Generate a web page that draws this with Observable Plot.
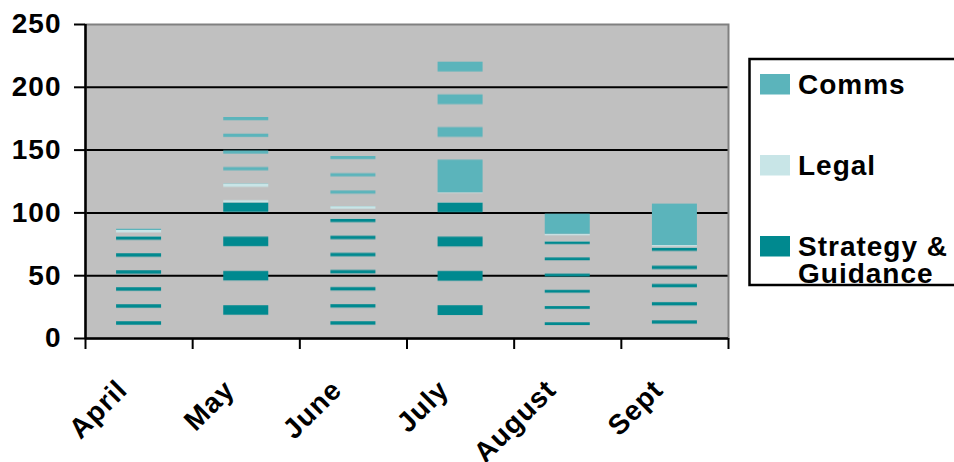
<!DOCTYPE html>
<html><head><meta charset="utf-8">
<script src="https://cdn.jsdelivr.net/npm/d3@7"></script>
<script src="https://cdn.jsdelivr.net/npm/@observablehq/plot@0.6"></script>
<style>
html,body{margin:0;padding:0;background:#fff;overflow:hidden;}
#wrap{position:relative;width:954px;height:462px;overflow:hidden;}
#wrap svg.lg{position:absolute;left:0;top:0;}
</style></head><body><div id="wrap"></div>
<script>
const months = ["April", "May", "June", "July", "August", "Sept"];
const seriesNames = ["Strategy & Guidance", "Legal", "Comms"];
const strategy = [81, 108, 95, 108, 77, 72];
const legal = [5, 15, 10, 8, 6, 2];
const comms = [1, 53, 40, 104, 16, 33];
const yTicks = [0, 50, 100, 150, 200, 250];
const legendOrder = ["Comms", "Legal", "Strategy & Guidance"];

// styles
const colors = {"Strategy & Guidance": "#00898f", "Legal": "#c8e5e7", "Comms": "#5bb4bb"};
// stripe pattern per bar segment: [period px, stripe px, solid bottom px]
const stripes = {
  April:  {"Strategy & Guidance": [17, 3.5, 0], "Legal": [17, 2.4, 0], "Comms": [17, 1.3, 0]},
  May:    {"Strategy & Guidance": [34.3, 9.5, 0], "Legal": [16.7, 3.3, 0], "Comms": [16.7, 3.3, 0]},
  June:   {"Strategy & Guidance": [17.1, 3.4, 0], "Legal": [17.1, 2.6, 0], "Comms": [17.3, 3.2, 0]},
  July:   {"Strategy & Guidance": [34.3, 9.8, 0], "Legal": [40, 0.9, 0], "Comms": [32.7, 9.8, 32.7]},
  August: {"Strategy & Guidance": [16.2, 2.8, 0], "Legal": [16, 1.4, 0], "Comms": [16, 16, 1e9]},
  Sept:   {"Strategy & Guidance": [18.2, 3.3, 0], "Legal": [16, 1.2, 0], "Comms": [16, 16, 1e9]}
};

const values = {"Strategy & Guidance": strategy, "Legal": legal, "Comms": comms};
const rows = [];
months.forEach((m, i) => {
  let base = 0;
  seriesNames.forEach((s, k) => {
    const v = values[s][i];
    rows.push({month: m, series: s, value: v, lo: base, hi: base + v, pat: `url(#pat-${i}-${k})`, id: `pat-${i}-${k}`});
    base += v;
  });
});

const W = 954, H = 462, mL = 85, mR = 226, mT = 24, mB = 124;
const plotH = H - mT - mB;
const step = (W - mL - mR) / months.length;

const plot = Plot.plot({
  width: W, height: H,
  marginLeft: mL, marginRight: mR, marginTop: mT, marginBottom: mB,
  style: {fontFamily: "'Liberation Sans', Arial, sans-serif", fontSize: "28px", fontWeight: "bold", letterSpacing: "1px", background: "transparent", color: "black"},
  x: {domain: months, paddingInner: 0.58, paddingOuter: 0.29, round: false, axis: null},
  y: {domain: [0, 250], axis: null},
  color: {type: "identity"},
  marks: [
    Plot.frame({fill: "#c0c0c0"}),
    Plot.ruleY(yTicks.slice(1, -1), {stroke: "black", strokeWidth: 2}),
    Plot.barY(rows, {x: "month", y: "value", fill: "pat"}),
    Plot.frame({stroke: "#808080", strokeWidth: 2}),
    Plot.ruleX([months[0]], {x: d => d, dx: -step / 2, stroke: "black", strokeWidth: 2.5}),
    Plot.ruleY([0], {stroke: "black", strokeWidth: 2.5}),
    Plot.ruleX(months, {x: d => d, dx: -step / 2, insetTop: plotH, insetBottom: -11, stroke: "black", strokeWidth: 2}),
    Plot.ruleX([months[months.length - 1]], {x: d => d, dx: step / 2, insetTop: plotH, insetBottom: -11, stroke: "black", strokeWidth: 2}),
    Plot.axisY({ticks: yTicks, tickSize: 11, tickPadding: 13, strokeWidth: 2, stroke: "black", fill: "black", label: null}),
    Plot.text(months, {x: d => d, frameAnchor: "bottom", rotate: -45, textAnchor: "end", lineAnchor: "bottom", dx: -10, dy: 53, fill: "black"})
  ]
});

// stripe patterns aligned to each segment through the y scale
const ys = plot.scale("y");
const defs = d3.select(plot).insert("defs", ":first-child");
rows.forEach(r => {
  const top = ys.apply(r.hi), bot = ys.apply(r.lo);
  const h = Math.max(bot - top, 0.01);
  const [P, T, solid] = stripes[r.month][r.series];
  const col = colors[r.series];
  const p = defs.append("pattern").attr("id", r.id).attr("patternUnits", "userSpaceOnUse")
    .attr("x", 0).attr("y", top).attr("width", W).attr("height", h);
  const sH = Math.min(solid, h);
  for (let s = 0; s < h - sH - 0.01; s += P) {
    p.append("rect").attr("x", 0).attr("y", s).attr("width", W).attr("height", Math.min(T, h - s)).attr("fill", col);
  }
  if (sH > 0) p.append("rect").attr("x", 0).attr("y", h - sH).attr("width", W).attr("height", sH).attr("fill", col);
});

const wrap = document.getElementById("wrap");
wrap.appendChild(plot);

// legend (right side)
const lg = d3.select(wrap).append("svg").attr("class", "lg").attr("width", W).attr("height", H)
  .style("font-family", "'Liberation Sans', Arial, sans-serif").style("font-size", "28px")
  .style("font-weight", "bold").style("letter-spacing", "1px");
lg.append("rect").attr("x", 749.5).attr("y", 59).attr("width", 230).attr("height", 226)
  .attr("fill", "white").attr("stroke", "black").attr("stroke-width", 2.5);
const legendY = [74, 155, 236];
const legendLines = {"Comms": ["Comms"], "Legal": ["Legal"], "Strategy & Guidance": ["Strategy &", "Guidance"]};
legendOrder.forEach((s, i) => {
  lg.append("rect").attr("x", 760).attr("y", legendY[i]).attr("width", 30).attr("height", 20.5).attr("fill", colors[s]);
  legendLines[s].forEach((t, j) => {
    lg.append("text").attr("x", 798).attr("y", legendY[i] + 20 + j * 27).attr("fill", "black").text(t);
  });
});
</script></body></html>
